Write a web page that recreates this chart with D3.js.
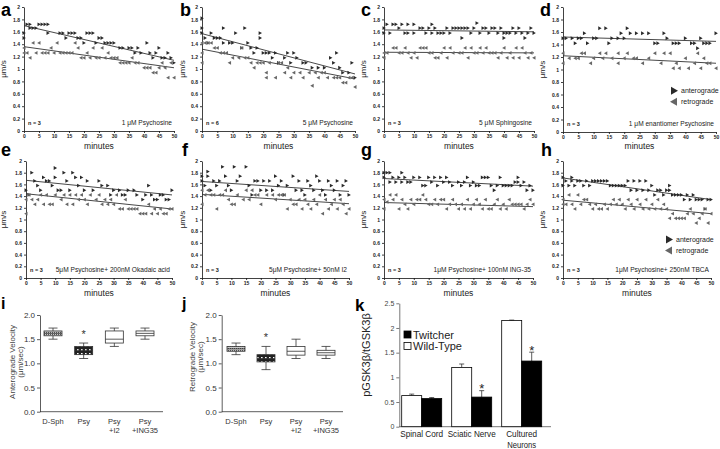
<!DOCTYPE html>
<html><head><meta charset="utf-8">
<script src="https://cdn.jsdelivr.net/npm/d3@7"></script>
<style>body{margin:0;background:#fff} svg{display:block} text{font-family:Arial,"Liberation Sans",sans-serif}</style>
</head><body><svg id="c" width="720" height="449"></svg>
<script>
// ---------------- DATA ----------------
const antA=[[0,1.58],[0,1.5],[1,1.72],[2,1.72],[2,1.66],[3,1.66],[4,1.66],[5,1.72],[6,1.72],[7,1.72],[8,1.72],[8,1.58],[12,1.58],[13,1.58],[14,1.5],[15,1.58],[16,1.58],[17,1.58],[18,1.5],[19,1.5],[20,1.42],[21,1.58],[22,1.58],[23,1.58],[24,1.42],[25,1.5],[26,1.5],[27,1.42],[28,1.42],[29,1.42],[30,1.42],[32,1.34],[33,1.34],[35,1.34],[36,1.34],[37,1.26],[38,1.34],[39,1.26],[41,1.42],[42,1.26],[43,1.18],[44,1.26],[45,1.34],[46,1.18],[47,1.18],[48,1.26],[49,1.18],[50,1.1]];
const retA=[[0,1.34],[0,1.26],[1,1.26],[2,1.18],[3,1.42],[4,1.26],[5,1.42],[6,1.26],[7,1.26],[8,1.26],[9,1.34],[10,1.26],[11,1.42],[12,1.26],[13,1.26],[14,1.26],[15,1.26],[16,1.26],[17,1.42],[18,1.34],[19,1.18],[20,1.18],[21,1.26],[22,1.18],[23,1.34],[24,1.18],[25,1.18],[26,1.34],[27,1.18],[28,1.26],[29,1.18],[30,1.18],[31,1.18],[32,1.1],[33,1.1],[34,1.1],[35,1.1],[36,1.18],[37,1.1],[38,1.1],[40,1.02],[41,1.02],[42,1.02],[43,0.94],[44,0.94],[45,1.02],[46,1.1],[47,1.02],[48,0.86],[49,1.1],[50,0.86]];
const antB=[[0,1.82],[0,1.66],[0,1.58],[1,1.5],[2,1.42],[3,1.58],[4,1.5],[5,1.5],[6,1.5],[7,1.66],[7,1.42],[9,1.42],[10,1.42],[11,1.58],[13,1.34],[14,1.66],[15,1.42],[16,1.34],[17,1.26],[18,1.34],[19,1.58],[19,1.5],[20,1.26],[21,1.26],[22,1.26],[23,1.18],[24,1.26],[25,1.1],[27,1.18],[28,1.26],[29,1.1],[30,1.26],[31,1.18],[33,1.1],[34,1.1],[36,1.02],[38,1.02],[40,1.02],[42,1.18],[43,1.1],[44,1.26],[45,1.02],[46,0.94],[48,0.94],[49,1.1],[50,0.86]];
const retB=[[0,1.42],[0,1.26],[0,1.1],[1,1.42],[2,1.42],[3,1.42],[4,1.34],[5,1.34],[6,1.26],[7,1.26],[8,1.26],[9,1.1],[10,1.18],[12,1.18],[13,1.34],[14,1.18],[15,1.18],[16,1.1],[17,1.02],[18,1.1],[19,1.1],[20,1.1],[21,0.94],[21,0.86],[22,1.1],[24,0.86],[25,1.1],[26,1.1],[27,0.94],[28,1.02],[29,0.86],[30,0.94],[32,0.94],[33,0.86],[35,0.94],[36,0.73],[37,0.94],[38,0.86],[39,0.94],[40,0.94],[41,0.86],[43,0.86],[44,0.86],[45,0.86],[46,0.78],[47,0.78],[48,0.86],[49,0.86],[50,0.71]];
const antC=[[0,1.58],[0,1.66],[1,1.72],[2,1.58],[3,1.72],[4,1.72],[5,1.66],[6,1.72],[7,1.58],[8,1.72],[8,1.58],[10,1.72],[10,1.58],[12,1.66],[13,1.66],[14,1.58],[15,1.66],[16,1.72],[16,1.58],[17,1.66],[18,1.58],[19,1.58],[20,1.58],[21,1.66],[22,1.58],[23,1.66],[24,1.66],[25,1.66],[26,1.5],[26,1.66],[27,1.66],[28,1.66],[29,1.58],[30,1.66],[31,1.74],[32,1.58],[33,1.66],[34,1.66],[35,1.58],[36,1.66],[37,1.66],[38,1.58],[39,1.66],[40,1.5],[40,1.58],[41,1.58],[42,1.58],[43,1.66],[44,1.58],[45,1.66],[46,1.58],[47,1.5],[48,1.58],[49,1.66],[50,1.58]];
const retC=[[0,1.26],[0,1.18],[1,1.26],[3,1.34],[4,1.34],[5,1.26],[6,1.26],[7,1.34],[8,1.26],[9,1.18],[10,1.26],[11,1.18],[12,1.34],[13,1.34],[14,1.34],[15,1.26],[16,1.26],[17,1.18],[18,1.18],[19,1.26],[20,1.34],[21,1.18],[22,1.34],[23,1.26],[25,1.26],[26,1.26],[27,1.34],[28,1.18],[29,1.34],[30,1.26],[31,1.26],[32,1.34],[33,1.26],[34,1.34],[35,1.26],[36,1.26],[37,1.26],[38,1.18],[39,1.26],[40,1.34],[41,1.18],[42,1.26],[43,1.18],[44,1.34],[45,1.18],[46,1.34],[47,1.26],[48,1.18],[49,1.26],[50,1.18]];
const antD=[[0,1.5],[1,1.5],[3,1.5],[4,1.42],[5,1.5],[6,1.5],[7,1.58],[8,1.42],[10,1.5],[11,1.5],[12,1.66],[14,1.66],[15,1.42],[16,1.5],[18,1.5],[19,1.58],[20,1.5],[21,1.66],[22,1.58],[24,1.58],[26,1.58],[28,1.58],[30,1.42],[31,1.42],[33,1.58],[34,1.5],[36,1.42],[37,1.42],[38,1.42],[40,1.5],[42,1.42],[43,1.42],[44,1.34],[45,1.5],[46,1.42],[47,1.42],[48,1.42],[50,1.58]];
const retD=[[0,1.26],[0,1.1],[2,1.18],[4,1.18],[5,1.18],[6,1.26],[7,1.26],[9,1.1],[10,1.18],[12,1.26],[13,1.18],[14,1.26],[16,1.18],[18,1.26],[18,1.1],[20,1.18],[21,1.26],[23,1.18],[24,1.18],[26,1.1],[28,1.18],[30,1.26],[32,1.1],[33,1.26],[35,1.26],[36,1.02],[37,1.1],[38,1.02],[40,1.18],[41,1.02],[43,1.1],[44,1.26],[45,1.02],[46,1.18],[47,1.1],[48,1.1],[50,1.02]];
const antE=[[0,1.5],[1,1.42],[2,1.8],[3,1.66],[4,1.58],[5,1.5],[6,1.72],[7,1.66],[8,1.66],[9,1.58],[10,1.88],[10,1.72],[11,1.5],[12,1.5],[13,1.8],[14,1.66],[15,1.5],[16,1.8],[17,1.72],[18,1.58],[19,1.72],[20,1.5],[21,1.66],[23,1.5],[25,1.66],[26,1.58],[28,1.58],[29,1.42],[30,1.5],[32,1.5],[33,1.42],[34,1.42],[35,1.5],[37,1.5],[38,1.42],[40,1.34],[41,1.42],[42,1.58],[43,1.42],[44,1.34],[45,1.34],[46,1.42],[47,1.42],[48,1.34],[49,1.34],[50,1.5]];
const retE=[[0,1.1],[0,1.34],[1,1.42],[2,1.34],[3,1.26],[4,1.34],[5,1.42],[6,1.26],[7,1.42],[8,1.26],[9,1.26],[10,1.42],[12,1.34],[13,1.42],[14,1.26],[15,1.42],[16,1.26],[17,1.42],[18,1.34],[19,1.42],[20,1.34],[21,1.26],[22,1.42],[24,1.34],[25,1.42],[26,1.26],[27,1.34],[28,1.26],[29,1.34],[30,1.26],[31,1.42],[32,1.18],[33,1.18],[34,1.34],[35,1.18],[36,1.18],[37,1.18],[38,1.18],[39,1.1],[40,1.1],[41,1.1],[42,1.26],[43,1.1],[44,1.18],[45,1.1],[46,1.18],[47,1.1],[48,1.1],[49,1.18],[50,1.18]];
const antF=[[0,1.74],[0,1.66],[1,1.58],[2,1.82],[2,1.74],[3,1.5],[4,1.66],[5,1.58],[6,1.66],[7,1.9],[8,1.74],[9,1.58],[10,1.5],[11,1.9],[12,1.66],[13,1.74],[15,1.9],[16,1.58],[17,1.42],[18,1.66],[19,1.66],[20,1.5],[21,1.66],[22,1.5],[23,1.66],[24,1.5],[25,1.74],[26,1.58],[27,1.66],[28,1.42],[29,1.58],[31,1.74],[32,1.5],[33,1.66],[34,1.5],[35,1.42],[36,1.66],[37,1.58],[38,1.5],[39,1.74],[40,1.66],[41,1.5],[42,1.42],[43,1.66],[44,1.58],[45,1.5],[46,1.66],[47,1.42],[48,1.58],[49,1.66],[50,1.42]];
const retF=[[0,1.5],[0,1.26],[1,1.42],[2,1.5],[3,1.42],[4,1.42],[5,1.18],[6,1.42],[7,1.42],[8,1.5],[9,1.34],[10,1.26],[11,1.26],[12,1.42],[14,1.34],[15,1.5],[16,1.34],[17,1.5],[18,1.42],[19,1.42],[20,1.26],[22,1.42],[24,1.42],[25,1.34],[26,1.42],[27,1.42],[28,1.42],[29,1.18],[30,1.34],[31,1.26],[32,1.26],[33,1.34],[34,1.18],[35,1.34],[36,1.26],[37,1.18],[38,1.34],[39,1.26],[40,1.42],[41,1.1],[42,1.34],[43,1.18],[44,1.26],[45,1.34],[46,1.18],[47,1.34],[48,1.26],[49,1.1],[50,1.18]];
const antG=[[0,1.8],[0,1.72],[1,1.8],[2,1.8],[2,1.64],[3,1.72],[4,1.64],[5,1.72],[6,1.8],[6,1.64],[7,1.72],[8,1.64],[9,1.64],[10,1.72],[12,1.72],[13,1.58],[14,1.58],[15,1.72],[16,1.64],[17,1.72],[18,1.58],[19,1.72],[20,1.64],[21,1.72],[22,1.64],[23,1.58],[25,1.64],[26,1.58],[27,1.64],[28,1.72],[29,1.58],[30,1.64],[31,1.58],[32,1.58],[33,1.72],[34,1.72],[35,1.72],[36,1.58],[37,1.5],[38,1.58],[39,1.72],[40,1.58],[41,1.58],[42,1.58],[43,1.58],[44,1.64],[45,1.72],[45,1.64],[46,1.58],[47,1.64],[48,1.5],[49,1.58],[50,1.5]];
const retG=[[0,1.34],[0,1.18],[1,1.3],[2,1.42],[3,1.34],[4,1.42],[5,1.18],[6,1.34],[7,1.26],[8,1.18],[9,1.34],[10,1.26],[11,1.34],[12,1.34],[13,1.42],[14,1.34],[15,1.26],[16,1.26],[17,1.34],[18,1.26],[19,1.34],[20,1.34],[21,1.18],[22,1.26],[23,1.34],[24,1.26],[25,1.18],[26,1.26],[27,1.18],[28,1.34],[29,1.18],[30,1.26],[31,1.34],[32,1.26],[33,1.18],[34,1.34],[35,1.18],[36,1.18],[37,1.26],[38,1.34],[39,1.18],[40,1.26],[41,1.18],[42,1.34],[43,1.26],[44,1.26],[45,1.26],[46,1.26],[47,1.18],[48,1.26],[49,1.34],[50,1.26]];
const antH=[[0,1.72],[0,1.58],[1,1.66],[2,1.58],[3,1.72],[3,1.66],[4,1.58],[5,1.66],[6,1.66],[7,1.58],[8,1.66],[9,1.58],[10,1.66],[11,1.66],[12,1.66],[13,1.66],[14,1.66],[15,1.66],[16,1.58],[17,1.58],[18,1.58],[19,1.58],[20,1.58],[21,1.58],[22,1.66],[23,1.5],[24,1.66],[25,1.5],[26,1.66],[27,1.5],[28,1.66],[29,1.5],[30,1.58],[31,1.42],[32,1.5],[33,1.5],[34,1.42],[35,1.5],[36,1.58],[36,1.5],[37,1.42],[38,1.42],[39,1.42],[40,1.42],[41,1.34],[42,1.42],[43,1.34],[44,1.42],[45,1.34],[46,1.34],[47,1.34],[48,1.18],[49,1.34],[50,1.34]];
const retH=[[0,1.34],[0,1.26],[1,1.26],[2,1.42],[3,1.26],[4,1.18],[5,1.42],[6,1.26],[7,1.34],[8,1.34],[9,1.26],[10,1.18],[11,1.26],[12,1.18],[13,1.18],[14,1.26],[15,1.18],[16,1.26],[17,1.34],[18,1.26],[19,1.34],[20,1.26],[21,1.18],[22,1.34],[23,1.26],[24,1.18],[25,1.34],[26,1.26],[27,1.18],[28,1.34],[29,1.18],[30,1.26],[31,1.18],[32,1.34],[33,1.18],[34,1.26],[35,1.18],[36,1.02],[37,1.1],[38,1.02],[39,1.02],[40,1.02],[41,1.02],[42,1.1],[43,1.18],[44,1.1],[45,0.94],[46,1.02],[47,1.1],[48,1.18],[49,0.94],[50,1.1]];

const panelLetters=['a','b','c','d','e','f','g','h'];
const anteroSeries=[antA,antB,antC,antD,antE,antF,antG,antH];
const retroSeries=[retA,retB,retC,retD,retE,retF,retG,retH];
const antFitStart=[1.70,1.57,1.63,1.52,1.67,1.65,1.70,1.71];
const antFitEnd  =[1.14,0.92,1.60,1.45,1.42,1.48,1.57,1.34];
const retFitStart=[1.36,1.32,1.27,1.22,1.44,1.43,1.29,1.33];
const retFitEnd  =[1.02,0.84,1.26,1.10,1.18,1.27,1.22,1.10];
const nCounts=[3,6,3,3,3,3,3,3];
const conditionLabels=['1 μM Psychosine','5 μM Psychosine','5 μM Sphingosine','1 μM enantiomer Psychosine',
 '5μM Psychosine+ 200nM Okadaic acid','5μM Psychosine+ 50nM I2','1μM Psychosine+ 100nM ING-35','1μM Psychosine+ 250nM TBCA'];
const xTickVals=[0,5,10,15,20,25,30,35,40,45,50];
const yTickVals=[0,0.2,0.4,0.6,0.8,1,1.2,1.4,1.6,1.8,2];
const legendLabels=['anterograde','retrograde'];

const boxCats=['D-Sph','Psy','Psy|+I2','Psy|+ING35'];
const antMin=[1.50,1.10,1.35,1.50], antQ1=[1.57,1.18,1.42,1.57], antMed=[1.62,1.27,1.50,1.62], antQ3=[1.67,1.35,1.67,1.67], antMax=[1.73,1.42,1.73,1.73];
const retMin=[1.18,0.87,1.10,1.10], retQ1=[1.25,1.03,1.17,1.17], retMed=[1.30,1.10,1.25,1.22], retQ3=[1.35,1.18,1.35,1.27], retMax=[1.42,1.35,1.50,1.35];
const boxTicks=[0,0.5,1,1.5,2];
const antStar=1.62, retStar=1.56;

const kGroups=['Spinal Cord','Sciatic Nerve','Cultured|Neurons'];
const wtVals=[0.63,1.20,2.15], wtErr=[0.03,0.07,0.01];
const twVals=[0.57,0.60,1.33], twErr=[0.02,0.13,0.18];
const kTicks=[0,0.5,1,1.5,2,2.5];
const kStars=[null,0.82,1.60];

// ---------------- DRAW ----------------
const svg=d3.select('#c');
const defs=svg.append('defs');
const p1=defs.append('pattern').attr('id','hatch').attr('width',2).attr('height',2).attr('patternUnits','userSpaceOnUse');
p1.append('rect').attr('width',2).attr('height',2).attr('fill','#c8c8c8');
p1.append('rect').attr('width',1).attr('height',1).attr('fill','#555');
const p2=defs.append('pattern').attr('id','dots').attr('width',4).attr('height',4).attr('patternUnits','userSpaceOnUse');
p2.append('rect').attr('width',4).attr('height',4).attr('fill','#222');
p2.append('rect').attr('x',1).attr('y',1).attr('width',1.6).attr('height',1.6).attr('fill','#fff');

const layout=[
 {L:24,R:174,T:7,B:131,lx:1,ly:16,ulx:6,minY:149},
 {L:202,R:355,T:7,B:131,lx:180,ly:16,ulx:185,minY:149},
 {L:384,R:534,T:7,B:131,lx:361,ly:16,ulx:366,minY:149},
 {L:563,R:716,T:7,B:132,lx:540,ly:16,ulx:545,minY:149},
 {L:26,R:172,T:161,B:278,lx:1,ly:156,ulx:6,minY:296},
 {L:202,R:349,T:161,B:278,lx:182,ly:156,ulx:185,minY:296},
 {L:384,R:533,T:161,B:278,lx:361,ly:156,ulx:366,minY:296},
 {L:563,R:711,T:161,B:278,lx:541,ly:156,ulx:545,minY:296}
];
const antPath='M-1.5,-1.9L1.9,0L-1.5,1.9Z', retPath='M1.5,-1.9L-1.9,0L1.5,1.9Z';

function styleAxis(g,fs){
 g.selectAll('path,line').attr('stroke','#111').attr('stroke-width',0.8);
 g.selectAll('text').attr('font-size',fs).attr('font-weight','bold').attr('fill','#222');
}

panelLetters.forEach((letter,i)=>{
 const p=layout[i];
 const x=d3.scaleLinear().domain([0,50]).range([p.L,p.R]);
 const y=d3.scaleLinear().domain([0,2]).range([p.B,p.T]);
 const g=svg.append('g');
 const ax=g.append('g').attr('transform',`translate(0,${p.B})`).call(d3.axisBottom(x).tickValues(xTickVals).tickSize(2).tickSizeOuter(0).tickPadding(1.5));
 styleAxis(ax,'5px');
 const ay=g.append('g').attr('transform',`translate(${p.L},0)`).call(d3.axisLeft(y).tickValues(yTickVals).tickSize(2).tickSizeOuter(0).tickPadding(2).tickFormat(d=>String(+d.toFixed(1))));
 styleAxis(ay,'5px');
 g.append('text').attr('x',(p.L+p.R)/2).attr('y',p.minY).attr('text-anchor','middle').attr('font-size','8.5px').attr('fill','#222').text('minutes');
 g.append('text').attr('transform',`translate(${p.ulx},${(p.T+p.B)/2}) rotate(-90)`).attr('text-anchor','middle').attr('font-size','8px').attr('fill','#222').text('μm/s');
 g.append('text').attr('x',p.lx).attr('y',p.ly).attr('font-size','18px').attr('font-weight','bold').text(letter);
 g.append('text').attr('x',p.L+4).attr('y',p.B-6).attr('font-size','5.5px').attr('font-weight','bold').attr('fill','#222').text('n = '+nCounts[i]);
 g.append('text').attr('x',p.R-2).attr('y',p.B-6).attr('text-anchor','end').attr('font-size','6.6px').attr('fill','#222').text(conditionLabels[i]);
 [[antFitStart[i],antFitEnd[i]],[retFitStart[i],retFitEnd[i]]].forEach(f=>{
   g.append('line').attr('x1',x(0)).attr('x2',x(50)).attr('y1',y(f[0])).attr('y2',y(f[1])).attr('stroke','#333').attr('stroke-width',0.9);
 });
 g.selectAll('.ant').data(anteroSeries[i]).join('path').attr('d',antPath).attr('fill','#2a2a2a')
   .attr('transform',d=>`translate(${x(d[0])},${y(d[1])})`);
 g.selectAll('.ret').data(retroSeries[i]).join('path').attr('d',retPath).attr('fill','#666')
   .attr('transform',d=>`translate(${x(d[0])},${y(d[1])})`);
 if(letter==='d'||letter==='h'){
   const ly0=y(0.66);
   legendLabels.forEach((lab,k)=>{
     const yy=ly0+k*11;
     g.append('path').attr('d',k===0?'M-3,-4L4,0L-3,4Z':'M3,-4L-4,0L3,4Z').attr('fill',k===0?'#2a2a2a':'#666').attr('transform',`translate(${p.R-42},${yy})`);
     g.append('text').attr('x',p.R-35).attr('y',yy+2.5).attr('font-size','7px').attr('fill','#222').text(lab);
   });
 }
});

// ---------- box plots i, j ----------
function boxPanel(cfg){
 const g=svg.append('g');
 const y=d3.scaleLinear().domain([0,2]).range([411.7,315]);
 const x=d3.scalePoint().domain(boxCats).range(cfg.xr);
 const ay=g.append('g').attr('transform',`translate(${cfg.ax},0)`).call(d3.axisLeft(y).tickValues(boxTicks).tickSize(3).tickSizeOuter(0).tickPadding(2).tickFormat(d3.format('.1f')));
 ay.selectAll('path,line').attr('stroke','#333').attr('stroke-width',0.8);
 ay.selectAll('text').attr('font-size','8px').attr('fill','#333');
 g.append('line').attr('x1',cfg.ax).attr('x2',cfg.axEnd).attr('y1',y(0)).attr('y2',y(0)).attr('stroke','#333').attr('stroke-width',0.8);
 boxCats.forEach((c,k)=>{
   const cx=x(c), w=18;
   g.append('line').attr('x1',cx).attr('x2',cx).attr('y1',y(cfg.mn[k])).attr('y2',y(cfg.mx[k])).attr('stroke','#333').attr('stroke-width',0.8);
   [cfg.mn[k],cfg.mx[k]].forEach(v=>g.append('line').attr('x1',cx-4.5).attr('x2',cx+4.5).attr('y1',y(v)).attr('y2',y(v)).attr('stroke','#333').attr('stroke-width',0.8));
   g.append('rect').attr('x',cx-w/2).attr('y',y(cfg.q3[k])).attr('width',w).attr('height',y(cfg.q1[k])-y(cfg.q3[k]))
    .attr('fill',k===0?'url(#hatch)':k===1?'url(#dots)':'#fff').attr('stroke','#333').attr('stroke-width',0.8);
   g.append('line').attr('x1',cx-w/2).attr('x2',cx+w/2).attr('y1',y(cfg.md[k])).attr('y2',y(cfg.md[k])).attr('stroke','#333').attr('stroke-width',0.8);
   c.split('|').forEach((t,j)=>g.append('text').attr('x',cx).attr('y',424+j*8.5).attr('text-anchor','middle').attr('font-size','7.5px').attr('fill','#333').text(t));
 });
 g.append('text').attr('x',x(boxCats[1])).attr('y',y(cfg.star)+5).attr('text-anchor','middle').attr('font-size','11px').attr('fill','#333').text('*');
 cfg.ylab.forEach((t,j)=>g.append('text').attr('transform',`translate(${cfg.ylx+j*8},${cfg.lyc}) rotate(-90)`).attr('text-anchor','middle').attr('font-size','8px').attr('fill','#444').text(t));
 g.append('text').attr('x',cfg.lx).attr('y',309).attr('font-size','16px').attr('font-weight','bold').text(cfg.letter);
}
boxPanel({letter:'i',lx:1,ax:40,axEnd:163,xr:[53,145],mn:antMin,q1:antQ1,md:antMed,q3:antQ3,mx:antMax,star:antStar,ylab:['Anterograde Velocity','(μm/sec)'],ylx:15,lyc:362});
boxPanel({letter:'j',lx:182,ax:221.7,axEnd:343,xr:[236,326],mn:retMin,q1:retQ1,md:retMed,q3:retQ3,mx:retMax,star:retStar,ylab:['Retrograde Velocity','(μm/sec)'],ylx:195,lyc:357});

// ---------- bar chart k ----------
(function(){
 const g=svg.append('g');
 const y=d3.scaleLinear().domain([0,2.5]).range([426.7,303.3]);
 const x=d3.scaleBand().domain(kGroups).range([396.7,546.7]);
 const xs=d3.scaleBand().domain(['wt','tw']).range([5,45]);
 const ay=g.append('g').attr('transform','translate(399.3,0)').call(d3.axisLeft(y).tickValues(kTicks).tickSize(3).tickSizeOuter(0).tickPadding(2).tickFormat(d=>String(d)));
 ay.selectAll('path,line').attr('stroke','#555').attr('stroke-width',0.8);
 ay.selectAll('text').attr('font-size','7px').attr('fill','#444');
 g.append('line').attr('x1',399.3).attr('x2',551).attr('y1',y(0)).attr('y2',y(0)).attr('stroke','#555').attr('stroke-width',0.8);
 const labW={'Spinal Cord':43,'Sciatic Nerve':48,'Cultured':31,'Neurons':29};
 kGroups.forEach((grp,k)=>{
   [['wt',wtVals[k],wtErr[k],'#fff'],['tw',twVals[k],twErr[k],'#000']].forEach(([s,v,e,fc])=>{
     const bx=x(grp)+xs(s), bw=xs.bandwidth(), cx=bx+bw/2;
     g.append('line').attr('x1',cx).attr('x2',cx).attr('y1',y(v)).attr('y2',y(v+e)).attr('stroke','#333').attr('stroke-width',0.8);
     g.append('line').attr('x1',cx-2.5).attr('x2',cx+2.5).attr('y1',y(v+e)).attr('y2',y(v+e)).attr('stroke','#333').attr('stroke-width',0.8);
     g.append('rect').attr('x',bx).attr('y',y(v)).attr('width',bw).attr('height',y(0)-y(v)).attr('fill',fc).attr('stroke','#000').attr('stroke-width',0.8);
   });
   if(kStars[k]!=null) g.append('text').attr('x',x(grp)+xs('tw')+xs.bandwidth()/2).attr('y',y(kStars[k])+7).attr('text-anchor','middle').attr('font-size','13px').attr('fill','#222').text('*');
   grp.split('|').forEach((t,j)=>g.append('text').attr('x',x(grp)+25).attr('y',437+j*10.5).attr('text-anchor','middle').attr('font-size','9px')
     .attr('textLength',labW[t]).attr('lengthAdjust','spacingAndGlyphs').attr('fill','#222').text(t));
 });
 [['Twitcher','#000'],['Wild-Type','#fff']].forEach(([t,c],k)=>{
   g.append('rect').attr('x',404).attr('y',331+k*11.5).attr('width',7).attr('height',7).attr('fill',c).attr('stroke','#000').attr('stroke-width',0.8);
   g.append('text').attr('x',413).attr('y',338.5+k*11.5).attr('font-size','11px').attr('fill','#222').text(t);
 });
 g.append('text').attr('transform','translate(370,355) rotate(-90)').attr('text-anchor','middle').attr('font-size','11px').attr('fill','#222').text('pGSK3β/tGSK3β');
 g.append('text').attr('x',355).attr('y',311).attr('font-size','17px').attr('font-weight','bold').text('k');
})();
</script></body></html>
